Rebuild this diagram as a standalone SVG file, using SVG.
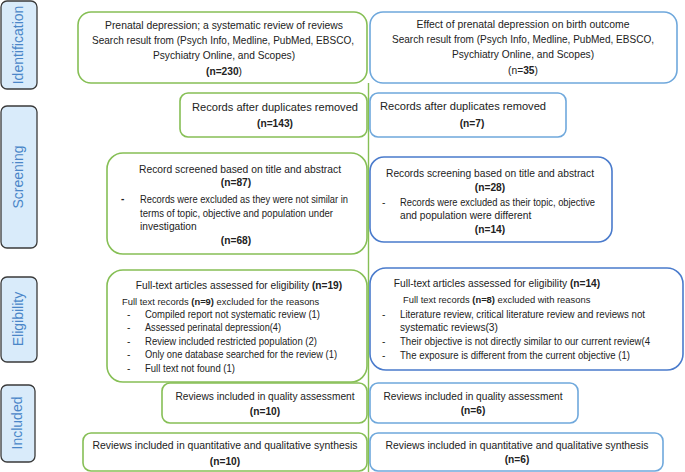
<svg xmlns="http://www.w3.org/2000/svg" width="685" height="472" viewBox="0 0 685 472">
<style>
text{font-family:"Liberation Sans",Arial,sans-serif;font-size:10.2px;fill:#222}
.c{text-anchor:middle}
.b{font-weight:bold}
.s{font-size:9.4px}
.side rect{fill:#d9ebfa;stroke:#3a3a3a;stroke-width:1.3}
.side text{fill:#4a86c8;font-size:14px;text-anchor:middle}
.g{fill:#fff;stroke:#86bf55;stroke-width:1.6}
.bl{fill:#fff;stroke:#6fa8dc;stroke-width:1.6}
.bd{fill:#fff;stroke:#4a7bcc;stroke-width:1.6}
</style>
<rect width="685" height="472" fill="#fff"/>
<g id="side-identification" class="side"><rect x="1" y="1" width="36" height="88" rx="6"/><text transform="translate(23,45) rotate(-90)">Identification</text></g>
<g id="side-screening" class="side"><rect x="1" y="106" width="36" height="142" rx="6"/><text transform="translate(23,177) rotate(-90)">Screening</text></g>
<g id="side-eligibility" class="side"><rect x="1" y="277" width="36" height="85" rx="6"/><text transform="translate(23,319) rotate(-90)">Eligibility</text></g>
<g id="side-included" class="side"><rect x="1" y="385" width="34" height="77" rx="6"/><text transform="translate(22,423) rotate(-90)">Included</text></g>
<g id="connectors"><line x1="368.5" y1="83" x2="368.5" y2="472" stroke="#86bf55" stroke-width="1.4"/></g>
<g id="L1"><rect class="g" x="78" y="12" width="289" height="71" rx="13"/>
<text class="c" x="224" y="29" textLength="238" lengthAdjust="spacingAndGlyphs">Prenatal depression; a systematic review of reviews</text>
<text class="c" x="223" y="44" textLength="262" lengthAdjust="spacingAndGlyphs">Search result from (Psych Info, Medline, PubMed, EBSCO,</text>
<text class="c" x="224" y="59">Psychiatry Online, and Scopes)</text>
<text class="c" x="224" y="75"><tspan class="b">(n=230</tspan>)</text></g>
<g id="R1"><rect class="bl" x="370" y="12" width="307" height="71" rx="13"/>
<text class="c" x="523" y="28" textLength="213" lengthAdjust="spacingAndGlyphs">Effect of prenatal depression on birth outcome</text>
<text class="c" x="523" y="43" textLength="262" lengthAdjust="spacingAndGlyphs">Search result from (Psych Info, Medline, PubMed, EBSCO,</text>
<text class="c" x="523" y="58">Psychiatry Online, and Scopes)</text>
<text class="c" x="523" y="74">(n=<tspan class="b">35</tspan>)</text></g>
<g id="L2"><rect class="g" x="180" y="93" width="187" height="44" rx="8"/>
<text class="c" x="275" y="111" textLength="166" lengthAdjust="spacingAndGlyphs">Records after duplicates removed</text>
<text class="c b" x="275" y="127">(n=143)</text></g>
<g id="R2"><rect class="bl" x="370" y="93" width="196" height="44" rx="8"/>
<text x="380" y="110" textLength="166" lengthAdjust="spacingAndGlyphs">Records after duplicates removed</text>
<text class="c b" x="472" y="127">(n=7)</text></g>
<g id="L3"><rect class="g" x="107" y="153" width="260" height="101" rx="16"/>
<text class="c" x="240" y="173" textLength="202" lengthAdjust="spacingAndGlyphs">Record screened based on title and abstract</text>
<text class="c b" x="236" y="186">(n=87)</text>
<text class="b" x="121" y="202">-</text>
<text x="140" y="203" textLength="208" lengthAdjust="spacingAndGlyphs">Records were excluded as they were not similar in</text>
<text x="140" y="217" textLength="193" lengthAdjust="spacingAndGlyphs">terms of topic, objective and population under</text>
<text x="140" y="230">investigation</text>
<text class="c b" x="236" y="244">(n=68)</text></g>
<g id="R3"><rect class="bd" x="370" y="157" width="242" height="85" rx="14"/>
<text class="c" x="490" y="177" textLength="208" lengthAdjust="spacingAndGlyphs">Records screening based on title and abstract</text>
<text class="c b" x="490" y="191">(n=28)</text>
<text x="382" y="206">-</text>
<text x="400" y="206" textLength="195" lengthAdjust="spacingAndGlyphs">Records were excluded as their topic, objective</text>
<text x="400" y="219">and population were different</text>
<text class="c b" x="490" y="233">(n=14)</text></g>
<g id="L4"><rect class="g" x="107" y="270" width="260" height="112" rx="16"/>
<text class="c" x="239" y="289">Full-text articles assessed for eligibility <tspan class="b">(n=19)</tspan></text>
<text class="s" x="122" y="305">Full text records <tspan class="b">(n=9)</tspan> excluded for the reasons</text>
<text x="127" y="318">-</text><text x="145" y="318" textLength="175" lengthAdjust="spacingAndGlyphs">Compiled report not systematic review (1)</text>
<text x="127" y="331">-</text><text x="145" y="331" textLength="136" lengthAdjust="spacingAndGlyphs">Assessed perinatal depression(4)</text>
<text x="127" y="345">-</text><text x="145" y="345" textLength="172" lengthAdjust="spacingAndGlyphs">Review included restricted population (2)</text>
<text x="127" y="358" fill="#888">-</text><text x="145" y="358" textLength="192" lengthAdjust="spacingAndGlyphs">Only one database searched for the review (1)</text>
<text x="127" y="372">-</text><text x="145" y="372" textLength="90" lengthAdjust="spacingAndGlyphs">Full text not found (1)</text></g>
<g id="R4"><rect class="bd" x="370" y="268" width="313" height="102" rx="16"/>
<text class="c" x="497" y="287">Full-text articles assessed for eligibility <tspan class="b">(n=14)</tspan></text>
<text class="s" x="403" y="303">Full text records <tspan class="b">(n=8)</tspan> excluded with reasons</text>
<text x="382" y="318">-</text><text x="400" y="318" textLength="245" lengthAdjust="spacingAndGlyphs">Literature review, critical literature review and reviews not</text>
<text x="400" y="331">systematic reviews(3)</text>
<text x="382" y="345">-</text><text x="400" y="345" textLength="250" lengthAdjust="spacingAndGlyphs">Their objective is not directly similar to our current review(4</text>
<text x="382" y="359">-</text><text x="400" y="359" textLength="230" lengthAdjust="spacingAndGlyphs">The exposure is different from the current objective (1)</text></g>
<g id="L5"><rect class="g" x="162" y="383" width="205" height="40" rx="8"/>
<text class="c" x="265" y="400" textLength="179" lengthAdjust="spacingAndGlyphs">Reviews included in quality assessment</text>
<text class="c b" x="265" y="415">(n=10)</text></g>
<g id="R5"><rect class="bl" x="370" y="383" width="208" height="40" rx="8"/>
<text class="c" x="473" y="400" textLength="179" lengthAdjust="spacingAndGlyphs">Reviews included in quality assessment</text>
<text class="c b" x="473" y="414">(n=6)</text></g>
<g id="L6"><rect class="g" x="83" y="433" width="284" height="38" rx="8"/>
<text class="c" x="225" y="449" textLength="265" lengthAdjust="spacingAndGlyphs">Reviews included in quantitative and qualitative synthesis</text>
<text class="c b" x="225" y="465">(n=10)</text></g>
<g id="R6"><rect class="bl" x="370" y="433" width="293" height="38" rx="8"/>
<text class="c" x="517" y="449" textLength="263" lengthAdjust="spacingAndGlyphs">Reviews included in quantitative and qualitative synthesis</text>
<text class="c b" x="517" y="463">(n=6)</text></g>
</svg>
